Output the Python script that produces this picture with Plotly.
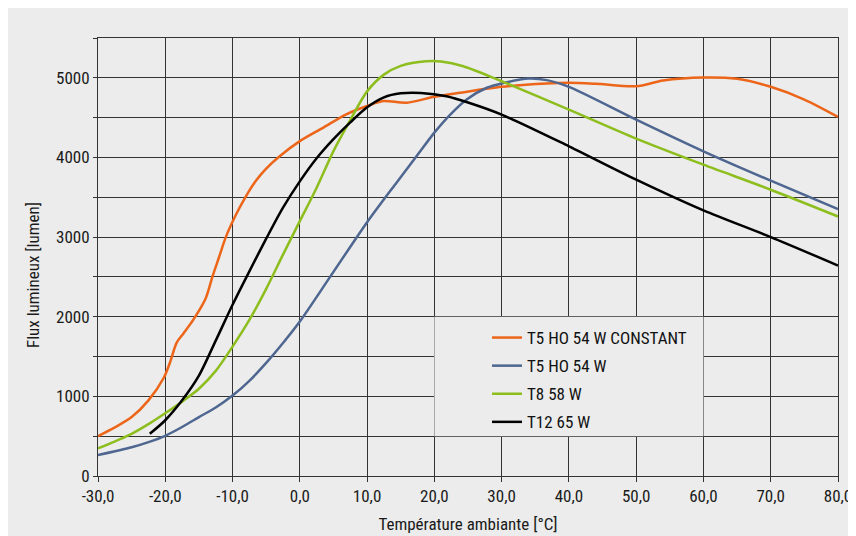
import plotly.graph_objects as go

# ---- data ----
temp_orange = [-30, -27.5, -25, -22.5, -20.2, -19.3, -18.3, -17.3, -15.8, -14, -13, -12, -11, -9.5, -8.1, -6.5, -5, -3, 0, 3.5, 6.9, 10, 12.4, 15.9, 20, 23.8, 30, 36.7, 40, 44, 50, 54, 60, 65, 70, 75, 80]
flux_orange = [500, 610, 740, 950, 1237, 1425, 1675, 1790, 1967, 2230, 2500, 2750, 3000, 3280, 3500, 3710, 3860, 4015, 4205, 4375, 4542, 4646, 4708, 4687, 4762, 4812, 4887, 4929, 4937, 4924, 4894, 4966, 5004, 4987, 4887, 4727, 4509]

temp_blue = [-30, -25, -22.5, -20, -17.5, -15, -12.5, -10, -7.5, -5, -2.5, 0, 4.5, 10, 14.4, 17.4, 20, 22.4, 24.8, 27.8, 30, 34, 36.7, 40, 50, 60, 70, 80]
flux_blue = [262, 360, 425, 505, 615, 740, 860, 1010, 1195, 1420, 1670, 1940, 2500, 3187, 3687, 4021, 4312, 4542, 4729, 4875, 4929, 4990, 4971, 4887, 4475, 4077, 3708, 3352]

temp_green = [-30, -25, -22.2, -19.8, -17.3, -15, -12.5, -10, -7.5, -5, -2.5, 0, 2.5, 5, 7.5, 10, 12.5, 15, 18.8, 21, 24.3, 30, 40, 50, 60, 70, 80]
flux_green = [346, 530, 667, 800, 946, 1095, 1320, 1625, 1960, 2350, 2780, 3200, 3620, 4080, 4470, 4830, 5040, 5150, 5208, 5205, 5146, 4957, 4601, 4237, 3909, 3595, 3259]

temp_black = [-22.3, -20, -17.5, -15, -12.5, -10, -7.5, -5, -2.5, 0, 2.5, 5, 7.5, 10, 12.5, 15, 18, 21.8, 25, 30, 40, 50, 60, 70, 80]
flux_black = [530, 700, 950, 1260, 1700, 2150, 2570, 2980, 3370, 3700, 3990, 4230, 4440, 4630, 4755, 4805, 4810, 4769, 4690, 4538, 4140, 3721, 3335, 3000, 2643]

series_names = ["T5 HO 54 W CONSTANT", "T5 HO 54 W", "T8 58 W", "T12 65 W"]
series_colors = ["#ec6519", "#4e6690", "#8dbe1e", "#000000"]

x_tickvals = [-30, -20, -10, 0, 10, 20, 30, 40, 50, 60, 70, 80]
x_ticktext = ["-30,0", "-20,0", "-10,0", "0,0", "10,0", "20,0", "30,0", "40,0", "50,0", "60,0", "70,0", "80,0"]
y_tickvals = [0, 500, 1000, 1500, 2000, 2500, 3000, 3500, 4000, 4500, 5000, 5500]
y_ticktext = ["0", "", "1000", "", "2000", "", "3000", "", "4000", "", "5000", ""]

x_title = "Température ambiante [°C]"
y_title = "Flux lumineux [lumen]"

FONT = "Liberation Sans Narrow, Arial Narrow, Roboto Condensed, sans-serif"
BG = "#ebeceb"
GRID = "#333333"

# the page adds an 8px body margin, so the figure is 848x528
W, H = 848, 528
ML, MR, MT, MB = 90, 18, 30, 60
PW, PH = W - ML - MR, H - MT - MB


def px_x(p):
    return (p - ML) / PW


def px_y(p):
    return (H - MB - p) / PH


fig = go.Figure()
for i, (xs, ys) in enumerate([(temp_orange, flux_orange), (temp_blue, flux_blue),
                               (temp_green, flux_green), (temp_black, flux_black)]):
    fig.add_trace(go.Scatter(
        x=xs, y=ys, mode="lines", name=series_names[i],
        legendgroup=str(i),
        line=dict(color=series_colors[i], width=2.5, shape="spline", smoothing=0.8),
    ))

# legend box hiding the grid behind the legend (between grid and traces)
fig.add_shape(type="rect", xref="x", yref="y", x0=20, x1=60, y0=500, y1=2000,
              fillcolor=BG, line=dict(width=0), layer="between")

# y-axis title (sits a little below the middle of the axis in the reference)
fig.add_annotation(text=y_title, xref="paper", yref="paper",
                   x=px_x(25), y=px_y(267), xanchor="center", yanchor="middle",
                   textangle=-90, showarrow=False,
                   font=dict(family=FONT, size=17, color="#1a1a1a"))

fig.update_layout(
    width=W, height=H,
    margin=dict(l=ML, r=MR, t=MT, b=MB),
    paper_bgcolor=BG,
    plot_bgcolor=BG,
    font=dict(family=FONT, size=17, color="#1a1a1a"),
    showlegend=True,
    legend=dict(
        x=px_x(479), y=px_y(312), xanchor="left", yanchor="top",
        bgcolor="rgba(0,0,0,0)", borderwidth=0,
        font=dict(family=FONT, size=17, color="#111111"),
        traceorder="grouped", tracegroupgap=3,
    ),
)
fig.update_xaxes(
    range=[-30, 80], tickvals=x_tickvals, ticktext=x_ticktext,
    showgrid=True, gridcolor=GRID, gridwidth=1,
    showline=True, linecolor=GRID, mirror=True, linewidth=1,
    ticks="outside", ticklen=5, tickcolor=GRID, zeroline=False, automargin=False,
    title=dict(text=x_title, font=dict(size=17, family=FONT), standoff=12),
    tickfont=dict(size=17, family=FONT),
)
fig.update_yaxes(
    range=[0, 5500], tickvals=y_tickvals, ticktext=y_ticktext,
    showgrid=True, gridcolor=GRID, gridwidth=1,
    showline=True, linecolor=GRID, mirror=True, linewidth=1,
    ticks="outside", ticklen=4, tickcolor=GRID, zeroline=False, automargin=False,
    tickfont=dict(size=17, family=FONT),
)

fig.write_html("out.html")
